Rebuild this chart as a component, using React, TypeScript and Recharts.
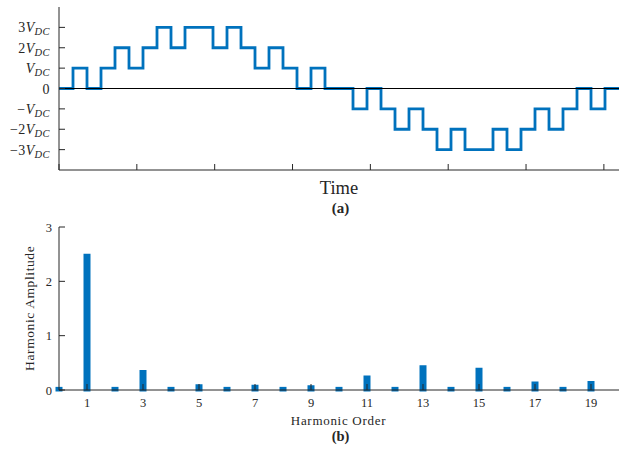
import { LineChart, Line, BarChart, Bar, XAxis, YAxis, ReferenceLine } from "recharts"

// seven-level staircase, one value per time step (41 points, the last one closes the step)
const waveSteps = [
  0, 1, 0, 1, 2, 1, 2, 3, 2, 3, 3, 2, 3, 2, 1, 2, 1, 0, 1, 0,
  0, -1, 0, -1, -2, -1, -2, -3, -2, -3, -3, -2, -3, -2, -1, -2, -1, 0, -1, 0,
  0,
]
const timeTicks = [0, 5.56, 11.12, 16.68, 22.24, 27.8, 33.36, 38.92]
const levelTicks = [-3, -2, -1, 0, 1, 2, 3]
const levelLabels = ["−3V_DC", "−2V_DC", "−V_DC", "0", "V_DC", "2V_DC", "3V_DC"]

// harmonic spectrum
const harmonicOrders = [0, 1, 2, 3, 4, 5, 6, 7, 8, 9, 10, 11, 12, 13, 14, 15, 16, 17, 18, 19]
const harmonicAmps = [
  0.03, 2.48, 0.03, 0.34, 0.03, 0.08, 0.03, 0.07, 0.03, 0.06,
  0.03, 0.24, 0.03, 0.43, 0.03, 0.38, 0.03, 0.13, 0.03, 0.14,
]
const orderTicks = [1, 3, 5, 7, 9, 11, 13, 15, 17, 19]
const ampTicks = [0, 1, 2, 3]

const waveRows = waveSteps.map((v, i) => ({ t: i, v }))
const harmRows = harmonicOrders.map((order, i) => ({ order, amp: harmonicAmps[i] }))

const AXIS = "#262626"
const BLUE = "#0072BD"
const FONT = "'Liberation Serif', 'Times New Roman', serif"

// inward tick marks, drawn by hand so labels stay outside the box
const xTick = (dir: number, showLabel: boolean) => (p: any) => (
  <g>
    <line x1={p.x} x2={p.x} y1={p.y} y2={p.y + dir * 6} stroke={AXIS} strokeWidth={1} />
    {showLabel && (
      <text x={p.x} y={p.y + 16.5} textAnchor="middle" fontFamily={FONT} fontSize={12.5} fill={AXIS}>
        {p.payload.value}
      </text>
    )}
  </g>
)

const yTickRight = (p: any) => (
  <line x1={p.x} x2={p.x - 6} y1={p.y} y2={p.y} stroke={AXIS} strokeWidth={1} />
)

const ampTick = (p: any) => (
  <g>
    <line x1={p.x} x2={p.x + 6} y1={p.y} y2={p.y} stroke={AXIS} strokeWidth={1} />
    <text x={p.x - 7} y={p.y + 4.5} textAnchor="end" fontFamily={FONT} fontSize={12.5} fill={AXIS}>
      {p.payload.value}
    </text>
  </g>
)

const levelTick = (p: any) => {
  const lab = levelLabels[levelTicks.indexOf(p.payload.value)] ?? ""
  const hasV = lab.endsWith("V_DC")
  const pre = hasV ? lab.slice(0, -4) : lab
  return (
    <g>
      <line x1={p.x} x2={p.x + 6} y1={p.y} y2={p.y} stroke={AXIS} strokeWidth={1} />
      <text x={p.x - 9} y={p.y + 5} textAnchor="end" fontFamily={FONT} fontSize={14} fill={AXIS} letterSpacing={0.4}>
        {pre}
        {hasV && <tspan fontStyle="italic">V</tspan>}
        {hasV && (
          <tspan fontStyle="italic" fontSize={10.5} dy={3}>
            DC
          </tspan>
        )}
      </text>
    </g>
  )
}

export default function App() {
  return (
    <div style={{ position: "absolute", left: 0, top: 0, width: 627, height: 454, background: "#fff" }}>
      <div style={{ position: "absolute", left: 0, top: 0 }}>
        <LineChart width={627} height={225} data={waveRows} margin={{ top: 7, right: 8, bottom: 0, left: 9 }}>
          <XAxis
            dataKey="t"
            type="number"
            domain={[0, 40]}
            ticks={timeTicks}
            interval={0}
            height={55}
            tickSize={0}
            tickMargin={0}
            tickLine={false}
            axisLine={{ stroke: AXIS }}
            tick={xTick(-1, false)}
          />
          <XAxis
            xAxisId="top"
            orientation="top"
            type="number"
            domain={[0, 40]}
            allowDataOverflow
            ticks={timeTicks}
            interval={0}
            height={0}
            tickSize={0}
            tickMargin={0}
            tickLine={false}
            axisLine={{ stroke: AXIS }}
            tick={xTick(1, false)}
          />
          <YAxis
            type="number"
            domain={[-4, 4]}
            ticks={levelTicks}
            interval={0}
            width={50}
            tickSize={0}
            tickMargin={0}
            tickLine={false}
            axisLine={{ stroke: AXIS }}
            tick={levelTick}
          />
          <YAxis
            yAxisId="right"
            orientation="right"
            type="number"
            domain={[-4, 4]}
            allowDataOverflow
            ticks={levelTicks}
            interval={0}
            width={0}
            tickSize={0}
            tickMargin={0}
            tickLine={false}
            axisLine={{ stroke: AXIS }}
            tick={yTickRight}
          />
          <Line type="stepAfter" dataKey="v" stroke={BLUE} strokeWidth={2.8} dot={false} isAnimationActive={false} />
          <ReferenceLine y={0} stroke="#000" strokeWidth={1} />
        </LineChart>
      </div>

      <div style={{ position: "absolute", left: 0, top: 220 }}>
        <BarChart width={627} height={234} data={harmRows} margin={{ top: 7, right: 8, bottom: 0, left: 9 }} barSize={4}>
          <XAxis
            dataKey="order"
            type="number"
            domain={[0, 20]}
            ticks={orderTicks}
            interval={0}
            height={64}
            tickSize={0}
            tickMargin={0}
            tickLine={false}
            axisLine={{ stroke: AXIS }}
            tick={xTick(-1, true)}
          />
          <XAxis
            xAxisId="top"
            orientation="top"
            type="number"
            domain={[0, 20]}
            allowDataOverflow
            ticks={orderTicks}
            interval={0}
            height={0}
            tickSize={0}
            tickMargin={0}
            tickLine={false}
            axisLine={{ stroke: AXIS }}
            tick={xTick(1, false)}
          />
          <YAxis
            type="number"
            domain={[0, 3]}
            ticks={ampTicks}
            interval={0}
            width={50}
            tickSize={0}
            tickMargin={0}
            tickLine={false}
            axisLine={{ stroke: AXIS }}
            tick={ampTick}
          />
          <YAxis
            yAxisId="right"
            orientation="right"
            type="number"
            domain={[0, 3]}
            allowDataOverflow
            ticks={ampTicks}
            interval={0}
            width={0}
            tickSize={0}
            tickMargin={0}
            tickLine={false}
            axisLine={{ stroke: AXIS }}
            tick={yTickRight}
          />
          <Bar dataKey="amp" fill={BLUE} stroke={BLUE} strokeWidth={3} isAnimationActive={false} />
        </BarChart>
      </div>

      <svg width={627} height={454} style={{ position: "absolute", left: 0, top: 0, pointerEvents: "none" }}>
        <text x={339} y={194} textAnchor="middle" fontFamily={FONT} fontSize={18.5} fill={AXIS}>
          Time
        </text>
        <text x={340.5} y={213} textAnchor="middle" fontFamily={FONT} fontSize={15} fontWeight="bold" fill={AXIS}>
          (a)
        </text>
        <text x={338.5} y={424.5} textAnchor="middle" fontFamily={FONT} fontSize={13} letterSpacing={0.7} fill={AXIS}>
          Harmonic Order
        </text>
        <text x={340.5} y={440.5} textAnchor="middle" fontFamily={FONT} fontSize={14.5} fontWeight="bold" fill={AXIS}>
          (b)
        </text>
        <text
          x={34}
          y={308.3}
          textAnchor="middle"
          transform="rotate(-90 34 308.3)"
          fontFamily={FONT}
          fontSize={13.5}
          letterSpacing={0.6}
          fill={AXIS}
        >
          Harmonic Amplitude
        </text>
      </svg>
    </div>
  )
}
